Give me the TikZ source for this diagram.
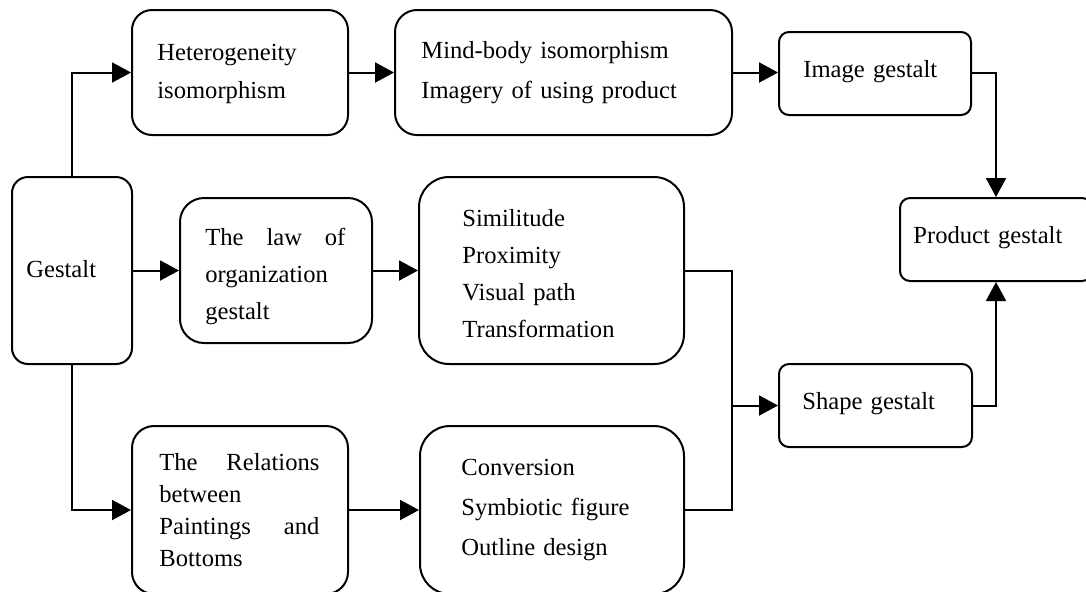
\documentclass[tikz,border=0pt]{standalone}
\usepackage{fontspec}
\setmainfont{Liberation Serif}
\usetikzlibrary{arrows.meta}

\begin{document}
\begin{tikzpicture}[
		x=0.5pt, y=-0.5pt,
		box/.style={draw, line width=1pt, rounded corners=#1, inner sep=0pt},
		box/.default=5pt,
		txt/.style={anchor=base west, inner sep=0pt, align=left, text width=#1},
		txt/.default=180pt,
		lsep/.style={font=\fontsize{12.3}{#1}\selectfont},
		lsep/.default=18pt,
		arr/.style={line width=1pt, -{Triangle[length=9.5pt, width=10pt]}},
		line/.style={line width=1pt}
	]
	\useasboundingbox (0,0) rectangle (1086,591);
	\clip (0,0) rectangle (1086,591);

	% boxes
	\node[box=8pt, minimum width=60pt, minimum height=93.5pt] (gest) at (72,270.5) {};
	\node[box=10pt, minimum width=108pt, minimum height=62.5pt] (het) at (240,72.5) {};
	\node[box=11pt, minimum width=168.5pt, minimum height=62.5pt] (mind) at (563.5,72.5) {};
	\node[box, minimum width=96pt, minimum height=41.5pt] (img) at (875,73.5) {};
	\node[box, minimum width=96pt, minimum height=41.5pt] (prod) at (996,239.5) {};
	\node[box=12pt, minimum width=96pt, minimum height=72.5pt] (law) at (276,270.5) {};
	\node[box=15pt, minimum width=132.5pt, minimum height=93.5pt] (sim) at (551.5,270.5) {};
	\node[box, minimum width=96.5pt, minimum height=41.5pt] (shape) at (875.5,405.5) {};
	\node[box=11pt, minimum width=108pt, minimum height=84pt] (rel) at (240,510) {};
	\node[box=15pt, minimum width=132pt, minimum height=84pt] (conv) at (552,510) {};

	% texts
	\node[txt, lsep] (gesttxt) at (26,277) {Gestalt};
	\node[txt, lsep=19pt] (hettxt) at (157,60) {Heterogeneity\\isomorphism};
	\node[txt, lsep=20pt] (mindtxt) at (421,58) {Mind-body isomorphism\\Imagery of using product};
	\node[txt, lsep] (imgtxt) at (803,77) {Image gestalt};
	\node[txt, lsep] (prodtxt) at (913,243) {Product gestalt};
	\node[txt=70pt, lsep=18.5pt] (lawtxt) at (205,245) {The\hfill law\hfill of\\organization\\gestalt};
	\node[txt, lsep=18.5pt] (simtxt) at (462,226) {Similitude\\Proximity\\Visual path\\Transformation};
	\node[txt, lsep] (shapetxt) at (802,409) {Shape gestalt};
	\node[txt=80pt, lsep=16pt] (reltxt) at (159,470) {The\hfill Relations\\between\\Paintings\hfill and\\Bottoms};
	\node[txt, lsep=20pt] (convtxt) at (461,475) {Conversion\\Symbiotic figure\\Outline design};

	% connectors
	\coordinate (jn) at (732,405.5);
	\draw[arr] (gest.north) |- (het.west);
	\draw[arr] (het.east) -- (mind.west);
	\draw[arr] (mind.east) -- (img.west |- mind.east);
	\draw[arr] (img.east |- mind.east) -| (prod.north);
	\draw[arr] (gest.east) -- (law.west);
	\draw[arr] (law.east) -- (sim.west);
	\draw[line] (sim.east) -| (jn);
	\draw[line] (conv.east) -| (jn);
	\draw[arr] (jn) -- (shape.west);
	\draw[arr] (shape.east) -| (prod.south);
	\draw[arr] (gest.south) |- (rel.west);
	\draw[arr] (rel.east) -- (conv.west);
\end{tikzpicture}
\end{document}
